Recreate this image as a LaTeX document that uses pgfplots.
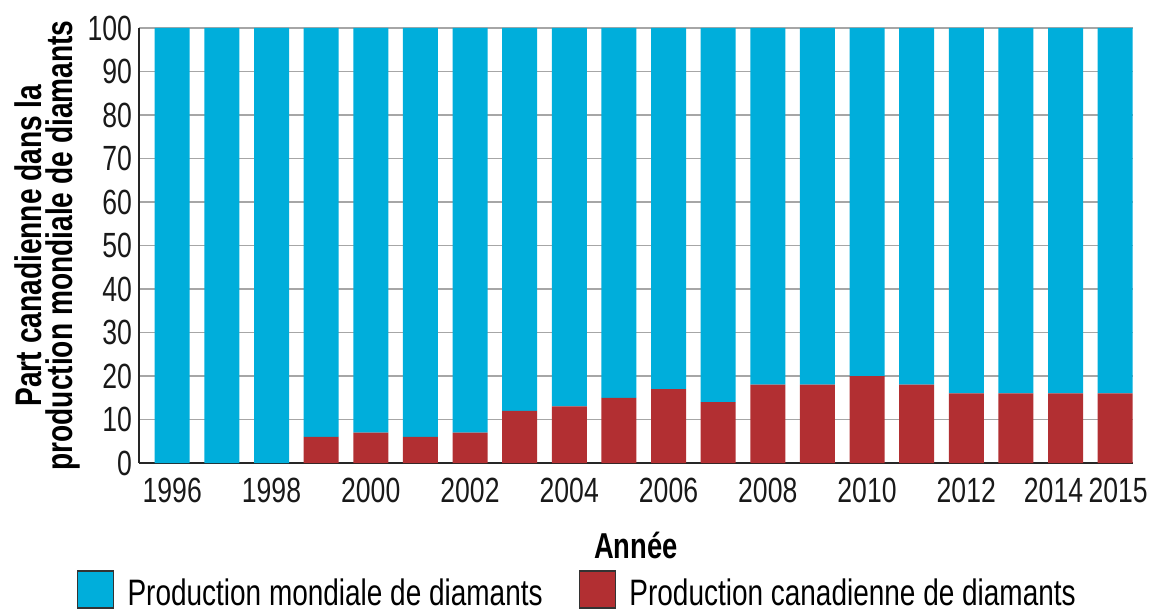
\documentclass[border=0pt]{standalone}
\usepackage{pgfplots}
\pgfplotsset{compat=1.18}
\usepackage{fontspec}
\setmainfont{Liberation Sans}[FakeStretch=0.76]
\definecolor{cyanbar}{RGB}{0,174,219}
\definecolor{redbar}{RGB}{178,47,50}
\begin{document}
\begin{tikzpicture}
\path[use as bounding box] (0,0) rectangle (578pt,305.5pt);
\begin{axis}[
  at={(69.5pt,74pt)}, anchor=south west,
  scale only axis, width=497pt, height=217.5pt,
  ybar stacked, bar width=17.5pt,
  xmin=1995.33, xmax=2015.36, ymin=0, ymax=100,
  axis x line*=bottom, axis y line*=left,
  axis line style={line width=1pt, black!85, -},
  xtick={1996,1998,2000,2002,2004,2006,2008,2010,2012,2014,2015},
  xticklabels={1996,1998,2000,2002,2004,2006,2008,2010,2012,\hspace*{-12pt}2014,2015\hspace*{-3pt}},
  ytick={0,10,...,100},
  major tick length=0pt,
  ymajorgrids, grid style={black!35, line width=0.6pt},
  tick label style={font=\fontsize{17.5}{18}\selectfont, text=black!90},
  xticklabel style={yshift=-4pt},
  /pgf/number format/assume math mode=true,
  /pgf/number format/1000 sep={},
  xlabel={Année},
  xlabel style={font=\fontsize{18}{18}\selectfont\bfseries, yshift=-8pt},
  ylabel={Part canadienne dans la\\production mondiale de diamants},
  ylabel style={font=\fontsize{18.5}{15.5}\selectfont\bfseries, align=center, yshift=-3pt},
  legend columns=2, reverse legend,
  legend style={draw=none, fill=none, inner sep=0pt, at={(-0.063,-0.246)}, anchor=north west,
    font=\fontsize{18.4}{18}\selectfont,
    /tikz/every even column/.append style={column sep=16pt}},
  legend image code/.code={\draw[#1, draw=black!80, line width=0.8pt] (0pt,-7pt) rectangle (18pt,11.3pt); \path (23pt,0pt);},
]
\addplot[fill=redbar, draw=none] coordinates {
(1996,0) (1997,0) (1998,0) (1999,6) (2000,7) (2001,6) (2002,7) (2003,12) (2004,13) (2005,15)
(2006,17) (2007,14) (2008,18) (2009,18) (2010,20) (2011,18) (2012,16) (2013,16) (2014,16) (2015,16)};
\addplot[fill=cyanbar, draw=none] coordinates {
(1996,100) (1997,100) (1998,100) (1999,94) (2000,93) (2001,94) (2002,93) (2003,88) (2004,87) (2005,85)
(2006,83) (2007,86) (2008,82) (2009,82) (2010,80) (2011,82) (2012,84) (2013,84) (2014,84) (2015,84)};
\legend{Production canadienne de diamants, Production mondiale de diamants}
\end{axis}
\end{tikzpicture}
\end{document}
